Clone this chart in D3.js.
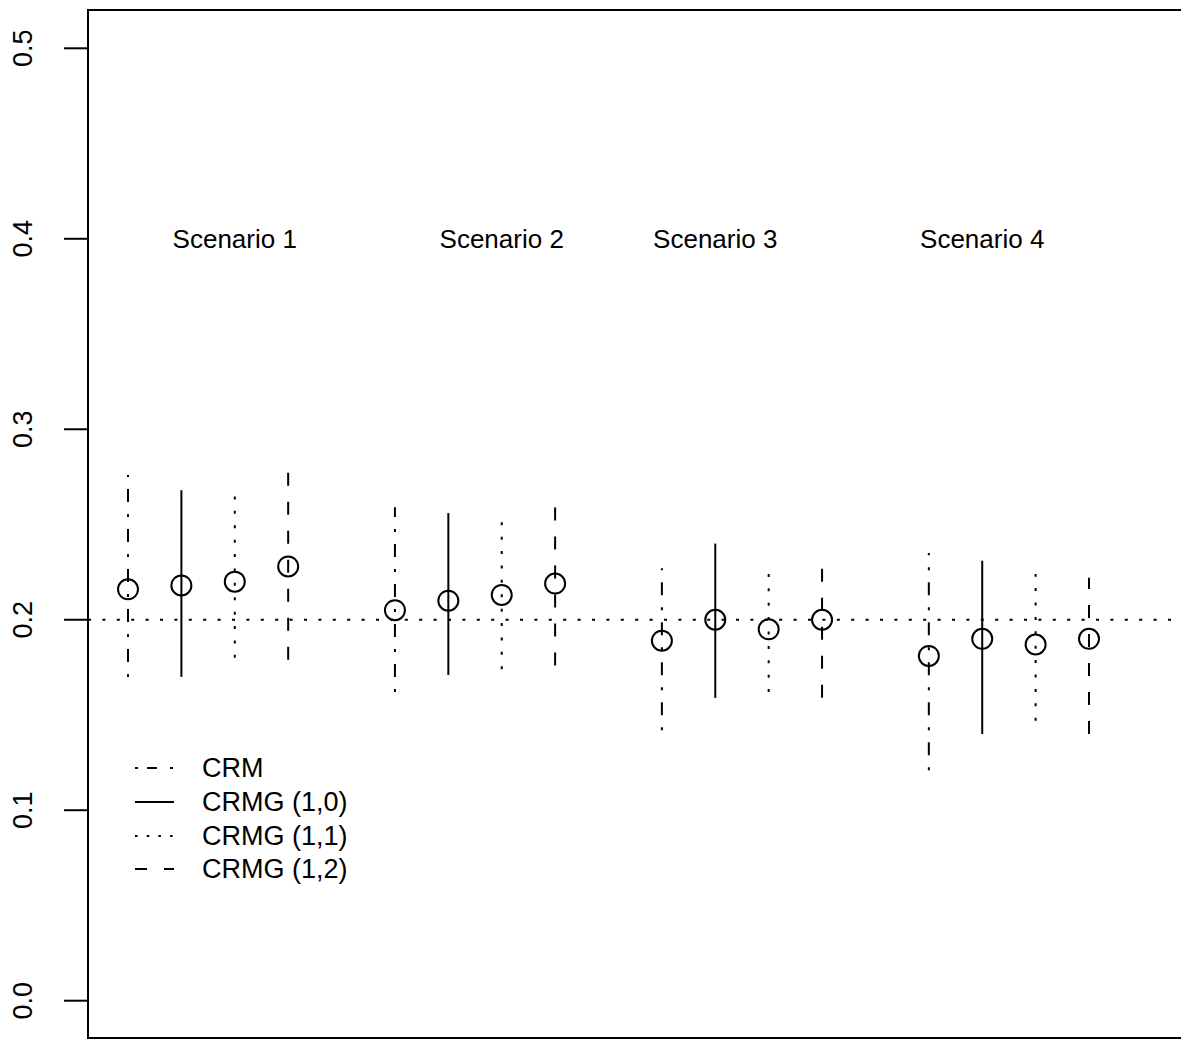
<!DOCTYPE html>
<html>
<head>
<meta charset="utf-8">
<script src="https://cdn.jsdelivr.net/npm/d3@7"></script>
<style>
  body { margin: 0; background: #fff; }
  svg { display: block; font-family: "Liberation Sans", Arial, sans-serif; }
</style>
</head>
<body>
<div id="chart"></div>
<script>
// Data
const scenarios = ['Scenario 1', 'Scenario 2', 'Scenario 3', 'Scenario 4'];
const scenarioLabelPos = [3, 8, 12, 17];
const methods = ['CRM', 'CRMG (1,0)', 'CRMG (1,1)', 'CRMG (1,2)'];
const xPositions = [1, 2, 3, 4, 6, 7, 8, 9, 11, 12, 13, 14, 16, 17, 18, 19];

// one row per scenario, one value per method
const estimates = [
  [0.216, 0.218, 0.220, 0.228],
  [0.205, 0.210, 0.213, 0.219],
  [0.189, 0.200, 0.195, 0.200],
  [0.181, 0.190, 0.187, 0.190]
];
const lower = [
  [0.170, 0.170, 0.180, 0.179],
  [0.162, 0.171, 0.174, 0.176],
  [0.142, 0.159, 0.162, 0.159],
  [0.121, 0.140, 0.147, 0.140]
];
const upper = [
  [0.276, 0.268, 0.265, 0.279],
  [0.259, 0.256, 0.253, 0.261],
  [0.227, 0.240, 0.226, 0.228],
  [0.235, 0.231, 0.224, 0.222]
];
const yTicks = [0.0, 0.1, 0.2, 0.3, 0.4, 0.5];
const refLine = 0.2;

// Dimensions
const WIDTH = 1181;
const HEIGHT = 1041;
const BOX = { left: 88, top: 10, right: 1195, bottom: 1038 };

// line styles per method (R lty 4, 1, 3, 2)
const dashes = ['3 12 13 12', null, '3 11.4', '13 16'];
const legendDashes = ['3 9 10 13 3 40', null, '2.5 9.2', '12 17'];

const svg = d3.select('#chart')
  .append('svg')
  .attr('width', WIDTH)
  .attr('height', HEIGHT);

const x = d3.scaleLinear().domain([1, 19]).range([128, 1089]);
const y = d3.scaleLinear().domain([0, 0.5]).range([1000.7, 48.3]);

// Flatten into points
const points = [];
scenarios.forEach((s, si) => {
  methods.forEach((m, mi) => {
    points.push({
      x: xPositions[si * 4 + mi],
      est: estimates[si][mi],
      lo: lower[si][mi],
      hi: upper[si][mi],
      method: mi
    });
  });
});

// Reference line
svg.append('line')
  .attr('x1', BOX.left)
  .attr('x2', BOX.right)
  .attr('y1', y(refLine))
  .attr('y2', y(refLine))
  .attr('stroke', '#000')
  .attr('stroke-width', 2)
  .attr('stroke-dasharray', dashes[2]);

// Error bars
svg.append('g')
  .selectAll('line')
  .data(points)
  .enter()
  .append('line')
  .attr('x1', d => x(d.x))
  .attr('x2', d => x(d.x))
  .attr('y1', d => y(d.lo))
  .attr('y2', d => y(d.hi))
  .attr('stroke', '#000')
  .attr('stroke-width', 2)
  .attr('stroke-dasharray', d => dashes[d.method]);

// Point estimates
svg.append('g')
  .selectAll('circle')
  .data(points)
  .enter()
  .append('circle')
  .attr('cx', d => x(d.x))
  .attr('cy', d => y(d.est))
  .attr('r', 10)
  .attr('fill', 'none')
  .attr('stroke', '#000')
  .attr('stroke-width', 2);

// Scenario labels
svg.append('g')
  .selectAll('text')
  .data(scenarios)
  .enter()
  .append('text')
  .attr('x', (d, i) => x(scenarioLabelPos[i]))
  .attr('y', y(0.4))
  .attr('dy', '0.35em')
  .attr('text-anchor', 'middle')
  .style('font-size', '26px')
  .text(d => d);

// Y axis
const axis = svg.append('g');
axis.selectAll('line')
  .data(yTicks)
  .enter()
  .append('line')
  .attr('x1', BOX.left - 24)
  .attr('x2', BOX.left)
  .attr('y1', d => y(d))
  .attr('y2', d => y(d))
  .attr('stroke', '#000')
  .attr('stroke-width', 2);
axis.selectAll('text')
  .data(yTicks)
  .enter()
  .append('text')
  .attr('transform', d => `translate(32, ${y(d)}) rotate(-90)`)
  .attr('text-anchor', 'middle')
  .style('font-size', '27px')
  .text(d => d.toFixed(1));

// Plot box
svg.append('rect')
  .attr('x', BOX.left)
  .attr('y', BOX.top)
  .attr('width', BOX.right - BOX.left)
  .attr('height', BOX.bottom - BOX.top)
  .attr('fill', 'none')
  .attr('stroke', '#000')
  .attr('stroke-width', 2);

// Legend
const legend = svg.append('g');
const rowY = [768, 802, 836, 869];
methods.forEach((m, i) => {
  legend.append('line')
    .attr('x1', 135)
    .attr('x2', 174)
    .attr('y1', rowY[i])
    .attr('y2', rowY[i])
    .attr('stroke', '#000')
    .attr('stroke-width', 2)
    .attr('stroke-dasharray', legendDashes[i]);
  legend.append('text')
    .attr('x', 202)
    .attr('y', rowY[i])
    .attr('dy', '0.35em')
    .style('font-size', '27px')
    .text(m);
});
</script>
</body>
</html>
